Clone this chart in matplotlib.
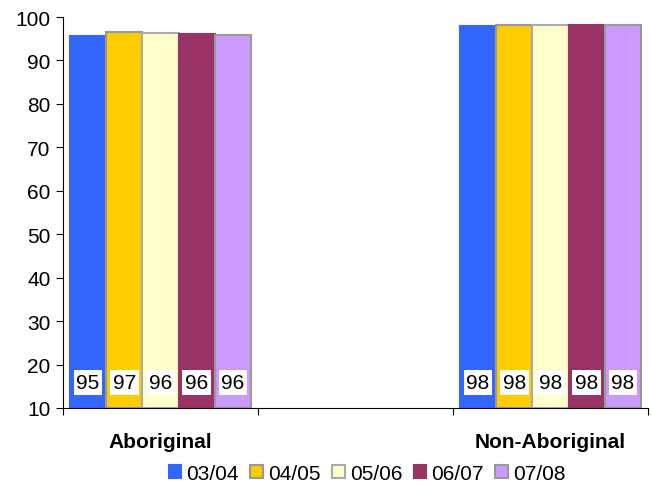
import matplotlib
matplotlib.use("Agg")
import matplotlib.pyplot as plt
import numpy as np

categories = ["Aboriginal", "", "Non-Aboriginal"]
series = ["03/04", "04/05", "05/06", "06/07", "07/08"]
aboriginal = [95.6, 96.5, 96.3, 96.1, 95.9]
non_aboriginal = [97.9, 98.1, 98.1, 98.1, 98.1]
labels_ab = ["95", "97", "96", "96", "96"]
labels_non = ["98", "98", "98", "98", "98"]
colors = ["#3366FF", "#FFCC00", "#FFFFCC", "#993366", "#CC99FF"]
edges = ["#3366FF", "#999999", "#AAAAAA", "#993366", "#999999"]

plt.rcParams['font.family'] = ['Liberation Sans', 'DejaVu Sans']

fig = plt.figure(figsize=(6.52, 4.85), dpi=100)
ax = fig.add_axes([63/652, 76/485, 585/652, 391/485])

bw = 0.186
xs = np.array([0.0, 2.0])
for i, s in enumerate(series):
    vals = [aboriginal[i], non_aboriginal[i]]
    labs = [labels_ab[i], labels_non[i]]
    pos = xs + (i - 2) * bw
    ax.bar(pos, np.array(vals) - 10, bottom=10, width=bw, color=colors[i],
           edgecolor=edges[i], linewidth=1.5, label=s, zorder=2)
    for p, l in zip(pos, labs):
        ax.text(p, 15.9, l, ha="center", va="center", fontsize=15,
                bbox=dict(facecolor="white", edgecolor="none", pad=2.0), zorder=3)

ax.set_xlim(-0.5, 2.5)
ax.set_ylim(10, 100)
ax.set_yticks(np.arange(10, 101, 10))
ax.set_xticks([-0.5, 0.5, 1.5, 2.5])
ax.set_xticklabels([])
ax.tick_params(axis="x", length=5, direction="out")
ax.tick_params(axis="y", length=5, direction="out", labelsize=15, pad=4)
for i, c in enumerate(categories):
    ax.text(xs[0] + i, -0.085, c, transform=ax.get_xaxis_transform(),
            ha="center", va="center", fontsize=15, fontweight="bold")
ax.spines["top"].set_visible(False)
ax.spines["right"].set_visible(False)

leg = ax.legend(loc="center", bbox_to_anchor=(0.52, -0.168), ncol=5, frameon=False,
                fontsize=15, handlelength=0.6, handleheight=0.6, handletextpad=0.25,
                columnspacing=0.55, borderpad=0.1)

fig.savefig("out.png", dpi=100)
